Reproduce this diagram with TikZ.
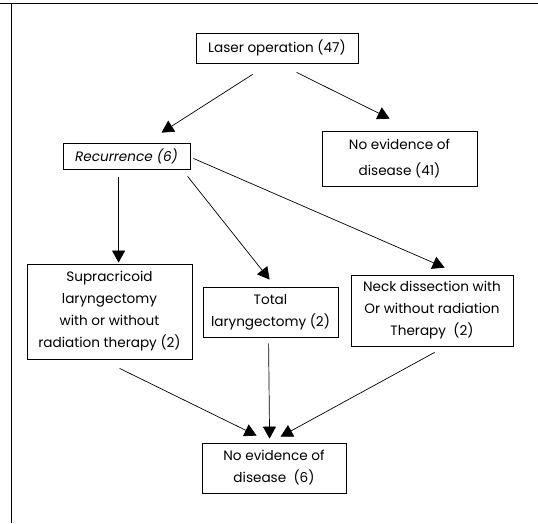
\documentclass[tikz,border=0pt]{standalone}
\usepackage{fontspec}
\setmainfont{Poppins}
\usetikzlibrary{arrows.meta}
\begin{document}
\begin{tikzpicture}[x=1pt,y=-1pt,
  box/.style={draw,line width=0.8pt,inner sep=0pt,align=center,
    font=\fontsize{13.6}{22}\selectfont},
  arr/.style={line width=0.7pt,-{Triangle[length=12pt,width=13pt]}}]
\useasboundingbox (0,0) rectangle (538,523);
\draw[line width=1pt] (0,3) -- (538,3);
\draw[line width=1pt] (11,3) -- (11,523);
\node[box,minimum width=162pt,minimum height=30pt] (laser) at (277,48) {Laser operation (47)};
\node[box,minimum width=127pt,minimum height=26pt] (rec) at (126.5,156) {\itshape Recurrence (6)};
\node[box,minimum width=155pt,minimum height=55pt,font=\fontsize{13.6}{26}\selectfont] (ned41) at (399.5,158.5) {No evidence of\\disease (41)};
\node[box,minimum width=165pt,minimum height=95pt] (supra) at (109.5,311.5) {Supracricoid\\laryngectomy\\with or without\\radiation therapy (2)};
\node[box,minimum width=135pt,minimum height=50pt] (total) at (270.5,312) {Total\\laryngectomy (2)};
\node[box,minimum width=162pt,minimum height=71pt] (neck) at (432,310.5) {Neck dissection with\\Or without radiation\\Therapy\ \ (2)};
\node[box,minimum width=144pt,minimum height=50pt] (ned6) at (274,468) {No evidence of\\disease\ \ (6)};
\draw[arr] ([shift={(57,11)}]laser.south west) -- ([shift={(99,-10)}]rec.north west);
\draw[arr] ([shift={(101,9)}]laser.south west) -- ([shift={(68,-12)}]ned41.north west);
\draw[arr] ([shift={(56,8)}]rec.south west) -- ([shift={(92,-1)}]supra.north west);
\draw[arr] ([shift={(125,7)}]rec.south west) -- ([shift={(67,-7)}]total.north west);
\draw[arr] ([shift={(3,-11)}]rec.south east) -- ([shift={(94,-7)}]neck.north west);
\draw[arr] ([shift={(93,9)}]supra.south west) -- ([shift={(55,-7)}]ned6.north west);
\draw[arr] ([shift={(66,6)}]total.south west) -- ([shift={(68,-4)}]ned6.north west);
\draw[arr] ([shift={(84,6)}]neck.south west) -- ([shift={(79,-6)}]ned6.north west);
\end{tikzpicture}
\end{document}
